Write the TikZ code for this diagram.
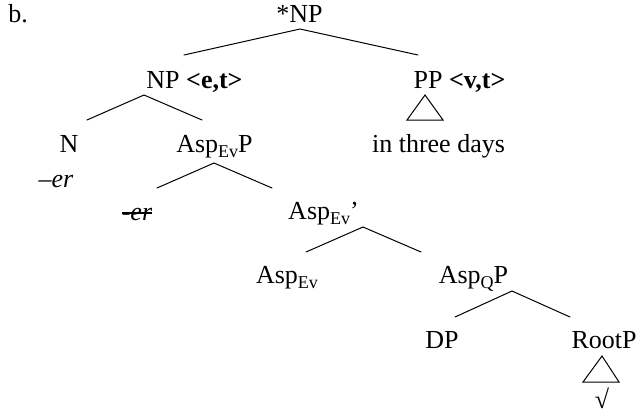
\documentclass[tikz,border=0pt]{standalone}
\usepackage{fontspec}
\setmainfont{Liberation Serif}
\newcommand\mystrike[1]{\setbox0\hbox{#1}\rlap{\rule[0.24em]{\wd0}{0.06em}}\box0}
\newcommand\sbs[1]{\raisebox{-0.22em}{\fontsize{9}{10}\selectfont #1}}
\begin{document}
\begin{tikzpicture}[x=0.5pt,y=-0.5pt,
  lab/.style={anchor=base,inner sep=0pt,font=\fontsize{13}{15}\selectfont},
  br/.style={line width=0.5pt,line cap=round}]
\useasboundingbox (0,0) rectangle (640,414);
% labels
\node[lab] (b) at (18,22) {b.};
\node[lab] (top) at (299.5,22) {*NP};
\node[lab] (np) at (194.5,88) {NP \textbf{<e,t>}};
\node[lab] (pp) at (459.5,88) {PP \textbf{<v,t>}};
\node[lab] (n) at (69,152) {N};
\node[lab] (ner) at (56,187) {\textit{--er}};
\node[lab] (aspevp) at (214.5,152) {Asp\sbs{Ev}P};
\node[lab] (days) at (438.5,152) {in three days};
\node[lab] (er) at (137,220) {\mystrike{\textit{-er}}};
\node[lab] (aspevbar) at (323.5,219) {Asp\sbs{Ev}’};
\node[lab] (aspev) at (287,283) {Asp\sbs{Ev}};
\node[lab] (aspqp) at (473.5,283) {Asp\sbs{Q}P};
\node[lab] (dp) at (442,348) {DP};
\node[lab] (rootp) at (604,348) {RootP};
\node[lab] (root) at (602,408) {√};
% branch points
\coordinate (a0) at (300,29);
\coordinate (a0l) at (184,55);
\coordinate (a0r) at (418,55);
\coordinate (a1) at (144,95);
\coordinate (a1l) at (87,120);
\coordinate (a1r) at (202,120);
\coordinate (t1) at (425,95);
\coordinate (t1l) at (407,120);
\coordinate (t1r) at (443,120);
\coordinate (a2) at (214,163);
\coordinate (a2l) at (157,188);
\coordinate (a2r) at (272,188);
\coordinate (a3) at (363,227);
\coordinate (a3l) at (306,252);
\coordinate (a3r) at (421,252);
\coordinate (a4) at (512,291);
\coordinate (a4l) at (455,317);
\coordinate (a4r) at (570,317);
\coordinate (t2) at (602,356);
\coordinate (t2l) at (583,382);
\coordinate (t2r) at (619,382);
% branches
\draw[br] (a0l) -- (a0) -- (a0r);
\draw[br] (a1l) -- (a1) -- (a1r);
\draw[br] (a2l) -- (a2) -- (a2r);
\draw[br] (a3l) -- (a3) -- (a3r);
\draw[br] (a4l) -- (a4) -- (a4r);
\draw[br] (t1) -- (t1l) -- (t1r) -- cycle;
\draw[br] (t2) -- (t2l) -- (t2r) -- cycle;
\end{tikzpicture}
\end{document}
